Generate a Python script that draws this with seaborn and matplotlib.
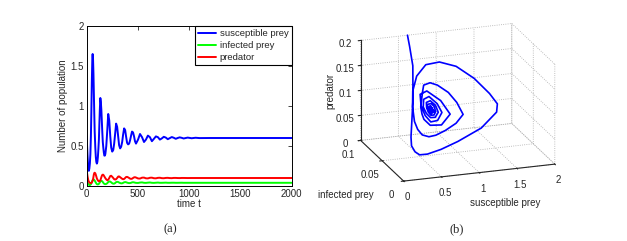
import matplotlib
matplotlib.use('Agg')
import numpy as np
import pandas as pd
import matplotlib.pyplot as plt
import seaborn as sns

# time points (denser where the oscillation is large)
time = [0, 1, 3, 8, 16, 21, 26, 31, 36, 41, 45, 50, 55, 58, 62, 66, 70, 74, 78, 84,
        89, 94, 99, 104, 109, 114, 119, 123, 128, 133, 138, 143, 148, 152, 157, 162,
        167, 172, 177, 182, 191, 201, 210, 220, 230, 239,
        249, 259, 268, 278, 287, 297, 307, 316,
        326, 336, 346, 355, 365, 375, 384, 394,
        404, 414, 423, 433, 442, 452, 462, 471,
        481, 501, 520, 540, 559, 578, 597, 617,
        636, 656, 675, 695, 714, 733, 752, 772,
        791, 810, 830, 849, 869, 888, 907, 927,
        946, 985, 1024, 1062, 1101, 1200, 1500, 2000]

susceptible = [0.62, 0.58, 0.52, 0.38, 0.20, 0.19, 0.22, 0.28, 0.40, 0.62, 0.90, 1.30, 1.60, 1.65, 1.58, 1.40, 1.15, 0.90, 0.68, 0.48,
               0.36, 0.30, 0.28, 0.30, 0.36, 0.46, 0.58, 0.75, 0.95, 1.10, 1.05, 0.95, 0.80, 0.68, 0.55, 0.48,
               0.42, 0.38, 0.38, 0.40, 0.50, 0.70, 0.90, 0.82, 0.62, 0.48,
               0.43, 0.45, 0.53, 0.66, 0.78, 0.74, 0.62, 0.51,
               0.47, 0.49, 0.55, 0.64, 0.72, 0.70, 0.62, 0.54,
               0.52, 0.53, 0.57, 0.63, 0.68, 0.67, 0.62, 0.56,
               0.53, 0.58, 0.65, 0.61, 0.55, 0.58, 0.63, 0.61,
               0.56, 0.59, 0.62, 0.61, 0.58, 0.595, 0.615, 0.605,
               0.585, 0.598, 0.612, 0.603, 0.59, 0.60, 0.608, 0.602,
               0.594, 0.605, 0.597, 0.603, 0.599, 0.60, 0.60, 0.60]

infected = [0.100, 0.088, 0.070, 0.045, 0.018, 0.015, 0.012, 0.012, 0.015, 0.022, 0.032, 0.048, 0.065, 0.072, 0.078, 0.082, 0.080, 0.075, 0.068, 0.054,
            0.042, 0.032, 0.024, 0.020, 0.020, 0.022, 0.027, 0.035, 0.045, 0.055, 0.061, 0.063, 0.062, 0.058, 0.050, 0.040,
            0.032, 0.027, 0.024, 0.023, 0.026, 0.035, 0.050, 0.058, 0.055, 0.046,
            0.035, 0.029, 0.030, 0.037, 0.048, 0.052, 0.050, 0.043,
            0.037, 0.033, 0.034, 0.039, 0.046, 0.049, 0.047, 0.042,
            0.038, 0.036, 0.037, 0.040, 0.045, 0.047, 0.045, 0.042,
            0.039, 0.038, 0.043, 0.045, 0.040, 0.039, 0.042, 0.044,
            0.040, 0.039, 0.041, 0.043, 0.040, 0.040, 0.041, 0.042,
            0.040, 0.040, 0.041, 0.041, 0.0400, 0.040, 0.0405, 0.041,
            0.0400, 0.040, 0.040, 0.040, 0.040, 0.040, 0.040, 0.040]

predator = [0.200, 0.188, 0.165, 0.120, 0.070, 0.055, 0.045, 0.038, 0.035, 0.035, 0.038, 0.045, 0.058, 0.068, 0.085, 0.115, 0.145, 0.162, 0.166, 0.158,
            0.140, 0.118, 0.095, 0.082, 0.070, 0.063, 0.060, 0.060, 0.063, 0.070, 0.090, 0.110, 0.128, 0.138, 0.142, 0.140,
            0.130, 0.120, 0.108, 0.098, 0.082, 0.072, 0.078, 0.100, 0.125, 0.128,
            0.115, 0.100, 0.085, 0.080, 0.085, 0.100, 0.118, 0.120,
            0.110, 0.100, 0.090, 0.085, 0.088, 0.100, 0.112, 0.114,
            0.108, 0.100, 0.092, 0.089, 0.091, 0.100, 0.108, 0.110,
            0.106, 0.094, 0.093, 0.104, 0.105, 0.096, 0.095, 0.103,
            0.104, 0.097, 0.096, 0.102, 0.103, 0.098, 0.097, 0.101,
            0.102, 0.099, 0.098, 0.101, 0.101, 0.0995, 0.099, 0.1005,
            0.1005, 0.0995, 0.100, 0.100, 0.100, 0.100, 0.100, 0.100]

series_names = ['susceptible prey', 'infected prey', 'predator']
series_colors = ['#0000ff', '#00ff00', '#ff0000']

sns.set_style('white')
plt.rcParams['font.family'] = ['Liberation Sans', 'DejaVu Sans']
plt.rcParams['font.size'] = 7
plt.rcParams['grid.linestyle'] = ':'
plt.rcParams['grid.color'] = '#aaaaaa'
plt.rcParams['grid.linewidth'] = 0.6

df = pd.DataFrame({'t': time,
                   'susceptible prey': susceptible,
                   'infected prey': infected,
                   'predator': predator})
long_df = df.melt(id_vars='t', var_name='series', value_name='value')

fig = plt.figure(figsize=(6.27, 2.41), dpi=100)

# (a) time series
ax1 = fig.add_axes([86.7 / 627, 55 / 241, 205 / 627, 160 / 241])
sns.lineplot(data=long_df, x='t', y='value', hue='series',
             hue_order=series_names, palette=series_colors,
             linewidth=1.4, ax=ax1, legend=False)
ax1.set_xlim(0, 2000)
ax1.set_ylim(0, 2)
ax1.set_xticks([0, 500, 1000, 1500, 2000])
ax1.set_yticks([0, 0.5, 1, 1.5, 2])
ax1.set_yticklabels(['0', '0.5', '1', '1.5', '2'])
ax1.set_xlabel('time t', labelpad=0)
ax1.set_ylabel('Number of population', labelpad=2)
ax1.tick_params(direction='in', length=3, width=0.6, top=True, right=True, pad=2)
for s in ax1.spines.values():
    s.set_linewidth(0.7)
    s.set_color('black')
handles = [plt.Line2D([], [], color=c, lw=1.4) for c in series_colors]
leg = ax1.legend(handles, series_names, loc='upper right', borderaxespad=0,
                 fancybox=False, framealpha=1, edgecolor='black',
                 handlelength=1.9, handletextpad=0.4, labelspacing=0.3,
                 borderpad=0.35, fontsize=6.8)
leg.get_frame().set_linewidth(0.8)

# (b) phase portrait
ax2 = fig.add_axes([330 / 627, 36 / 241, 250 / 627, 200 / 241], projection='3d')
ax2.plot(susceptible, infected, predator, color='#0000ff', lw=1.2)
ax2.set_proj_type('ortho')
ax2.view_init(elev=19, azim=-109)
ax2.set_box_aspect((1.21, 1, 0.8), zoom=1.13)
ax2.set_xlim(0, 2)
ax2.set_ylim(0, 0.1)
ax2.set_zlim(0, 0.2)
ax2.set_xticks([0, 0.5, 1, 1.5, 2])
ax2.set_xticklabels(['0', '0.5', '1', '1.5', '2'])
ax2.set_yticks([0, 0.05, 0.1])
ax2.set_yticklabels(['0', '0.05', '0.1'])
ax2.set_zticks([0, 0.05, 0.1, 0.15, 0.2])
ax2.set_zticklabels(['0', '0.05', '0.1', '0.15', '0.2'])
for axis in (ax2.xaxis, ax2.yaxis, ax2.zaxis):
    axis.set_pane_color((1, 1, 1, 0))
    axis._axinfo['grid'].update(linestyle=':', color='#aaaaaa', linewidth=0.6)
    axis.line.set_linewidth(0.8)
ax2.tick_params(axis='both', pad=-2, labelsize=7)

fig.text(505 / 627, 1 - 203 / 241, 'susceptible prey', ha='center', va='center')
fig.text(346 / 627, 1 - 195 / 241, 'infected prey', ha='center', va='center')
fig.text(330 / 627, 1 - 91 / 241, 'predator', ha='center', va='center', rotation=90)

fig.text(170 / 627, 12 / 241, '(a)', ha='center', va='center',
         family='Liberation Serif', fontsize=9)
fig.text(457 / 627, 12 / 241, '(b)', ha='center', va='center',
         family='Liberation Serif', fontsize=9)

fig.savefig('out.png', dpi=100)
